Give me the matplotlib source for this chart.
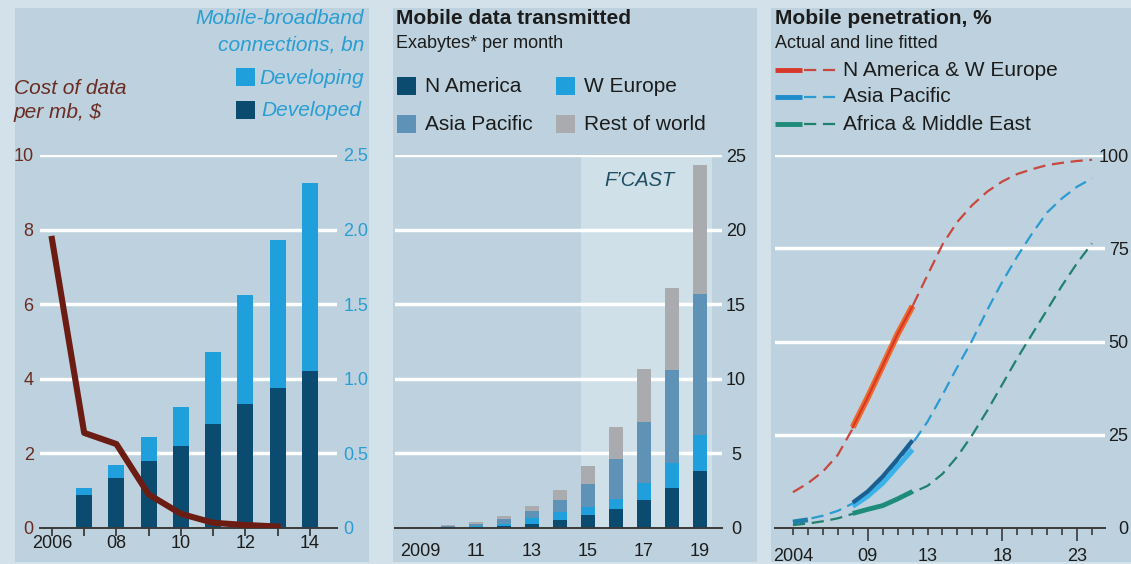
import matplotlib
matplotlib.use('Agg')
import matplotlib.pyplot as plt
from matplotlib.patches import Rectangle
from matplotlib.lines import Line2D

plt.rcParams['font.family'] = ['Liberation Sans', 'DejaVu Sans']

# ---------------- data ----------------
# Panel 1: mobile-broadband connections (bn) and cost of data ($ per mb)
bb_years = [2007, 2008, 2009, 2010, 2011, 2012, 2013, 2014]
bb_developed = [0.22, 0.335, 0.45, 0.55, 0.70, 0.83, 0.94, 1.05]
bb_developing = [0.05, 0.085, 0.16, 0.26, 0.48, 0.73, 0.99, 1.26]
cost_years = [2006, 2007, 2008, 2009, 2010, 2011, 2012, 2013]
cost_per_mb = [7.75, 2.55, 2.25, 0.90, 0.38, 0.14, 0.08, 0.04]
p1_xticks = [2006, 2007, 2008, 2009, 2010, 2011, 2012, 2013, 2014]
p1_xlabels = ['2006', '', '08', '', '10', '', '12', '', '14']
p1_left_ticks = [0, 2, 4, 6, 8, 10]
p1_right_ticks = [0, 0.5, 1.0, 1.5, 2.0, 2.5]
p1_right_labels = ['0', '0.5', '1.0', '1.5', '2.0', '2.5']

# Panel 2: mobile data transmitted, exabytes per month
data_years = [2009, 2010, 2011, 2012, 2013, 2014, 2015, 2016, 2017, 2018, 2019]
n_america = [0.01, 0.04, 0.08, 0.15, 0.30, 0.56, 0.85, 1.27, 1.90, 2.68, 3.80]
w_europe = [0.01, 0.04, 0.08, 0.15, 0.37, 0.49, 0.53, 0.69, 1.10, 1.67, 2.40]
asia_pacific = [0.02, 0.06, 0.14, 0.30, 0.49, 0.80, 1.57, 2.66, 4.10, 6.25, 9.50]
rest_of_world = [0.01, 0.04, 0.10, 0.20, 0.34, 0.67, 1.18, 2.14, 3.55, 5.50, 8.60]
p2_xticks = [2009, 2011, 2013, 2015, 2017, 2019]
p2_xlabels = ['2009', '11', '13', '15', '17', '19']
p2_yticks = [0, 5, 10, 15, 20, 25]
fcast_start, fcast_end = 2014.75, 2019.45

# Panel 3: mobile penetration, %
pen_years = list(range(2004, 2025))
fit_na_weu = [9.6, 12.0, 15.1, 19.6, 26.7, 35.0, 43.4, 52.0, 59.5, 67.8, 76.0,
              82.1, 86.6, 90.2, 92.9, 94.9, 96.2, 97.3, 97.9, 98.4, 98.7]
fit_asia = [1.7, 2.4, 3.3, 4.6, 6.6, 9.3, 12.9, 17.8, 22.7, 28.5, 35.7,
            43.2, 50.4, 58.5, 66.0, 72.8, 79.0, 84.6, 88.4, 91.5, 93.7]
fit_af_me = [0.8, 1.2, 1.8, 2.6, 3.8, 5.0, 6.2, 7.8, 9.5, 11.3, 14.5,
             19.2, 25.0, 31.5, 38.5, 45.5, 52.0, 58.5, 65.0, 71.0, 76.3]
act_years = [2008, 2009, 2010, 2011, 2012]
act_na_weu = [27.0, 35.0, 43.5, 52.0, 59.5]
act_asia = [6.8, 9.8, 13.8, 18.5, 23.5]
act_asia_light = [5.8, 8.5, 12.0, 16.5, 21.0]
act_af_me = [3.9, 5.0, 6.0, 7.8, 9.8]
early_years = [2004, 2005]
early_asia = [1.6, 2.2]
p3_major = [2004, 2009, 2013, 2018, 2023]
p3_labels = ['2004', '09', '13', '18', '23']
p3_yticks = [0, 25, 50, 75, 100]

# ---------------- style ----------------
OUTER = '#d3e2ea'
PANEL = '#bdd2de'
FCAST = '#d0e0e9'
DARK = '#0c4b70'
BRIGHT = '#1f9fdc'
STEEL = '#5e92b6'
GREY = '#a9abaf'
MAROON = '#6b1d13'
MAROON_TXT = '#6a2c22'
BLUE_TXT = '#2a9dd3'
TEXT = '#1c1c1c'
BASE = '#3a3a3a'
RED_D = '#c8483f'
ORANGE = '#ee6a2c'
RED_A = '#d8382a'
BLUE_D = '#2b9bd2'
BLUE_A = '#1b5f91'
BLUE_L = '#3cb3e8'
GREEN_D = '#22806e'
GREEN_A = '#1e8c79'

W, H = 1131, 564


def rect(l, t, r, b):
    return [l / W, 1 - b / H, (r - l) / W, (b - t) / H]


def fx(px):
    return px / W


def fy(py):
    return 1 - py / H


fig = plt.figure(figsize=(W / 100, H / 100), dpi=100, facecolor=OUTER)

for l, r in [(15, 369), (393, 757), (771, 1131)]:
    fig.patches.append(Rectangle((fx(l), fy(562)), (r - l) / W, 554 / H,
                                 transform=fig.transFigure, color=PANEL,
                                 zorder=-5, lw=0))


def square(l, t, color):
    fig.patches.append(Rectangle((fx(l), fy(t + 18)), 19 / W, 18 / H,
                                 transform=fig.transFigure, color=color,
                                 zorder=2, lw=0))


def style_axes(ax):
    for s in ax.spines.values():
        s.set_visible(False)
    ax.set_facecolor('none')


# ---------------- panel 1 ----------------
ax1 = fig.add_axes(rect(40, 155, 337, 528))
ax1b = ax1.twinx()
ax1.set_zorder(ax1b.get_zorder() + 1)
ax1.patch.set_visible(False)
ax1b.patch.set_visible(False)
style_axes(ax1)
style_axes(ax1b)
ax1.set_xlim(2005.63, 2014.84)
ax1.set_ylim(0, 10)
ax1b.set_ylim(0, 2.5)
for v in p1_right_ticks[1:]:
    ax1b.axhline(v, color='white', lw=2.5, zorder=0.5)
ax1b.bar(bb_years, bb_developed, width=0.5, color=DARK, zorder=2)
ax1b.bar(bb_years, bb_developing, bottom=bb_developed, width=0.5,
         color=BRIGHT, zorder=2)
ax1.plot(cost_years, cost_per_mb, color=MAROON, lw=4.4, zorder=3)
ax1.spines['bottom'].set_visible(True)
ax1.spines['bottom'].set_color(BASE)
ax1.spines['bottom'].set_linewidth(1.4)
ax1.set_xticks(p1_xticks)
ax1.set_xticklabels(p1_xlabels)
ax1.tick_params(axis='x', length=6, width=1.3, color=BASE, pad=-1,
                labelsize=13, labelcolor=TEXT)
ax1.set_yticks(p1_left_ticks)
ax1.tick_params(axis='y', length=0, pad=4.5, labelsize=13,
                labelcolor=MAROON_TXT)
ax1b.set_yticks(p1_right_ticks)
ax1b.set_yticklabels(p1_right_labels)
ax1b.tick_params(axis='y', length=0, pad=4.5, labelsize=13,
                 labelcolor=BLUE_TXT)

fig.text(fx(364), fy(18), 'Mobile-broadband', ha='right', va='center',
         style='italic', size=15, color=BLUE_TXT)
fig.text(fx(364), fy(45), 'connections, bn', ha='right', va='center',
         style='italic', size=15, color=BLUE_TXT)
square(236, 68, BRIGHT)
fig.text(fx(364), fy(78), 'Developing', ha='right', va='center',
         style='italic', size=15, color=BLUE_TXT)
square(236, 101, DARK)
fig.text(fx(361), fy(111), 'Developed', ha='right', va='center',
         style='italic', size=15, color=BLUE_TXT)
fig.text(fx(14), fy(89), 'Cost of data', ha='left', va='center',
         style='italic', size=15, color=MAROON_TXT)
fig.text(fx(14), fy(112), 'per mb, $', ha='left', va='center',
         style='italic', size=15, color=MAROON_TXT)

# ---------------- panel 2 ----------------
ax2 = fig.add_axes(rect(395, 155, 722, 528))
style_axes(ax2)
ax2.set_xlim(2008.11, 2019.79)
ax2.set_ylim(0, 25)
ax2.axvspan(fcast_start, fcast_end, color=FCAST, lw=0, zorder=0.2)
for v in p2_yticks[1:]:
    ax2.axhline(v, color='white', lw=2.5, zorder=0.5)
bottom = [0.0] * len(data_years)
for vals, col in [(n_america, DARK), (w_europe, BRIGHT),
                  (asia_pacific, STEEL), (rest_of_world, GREY)]:
    ax2.bar(data_years, vals, bottom=bottom, width=0.5, color=col, zorder=2)
    bottom = [b + v for b, v in zip(bottom, vals)]
ax2.spines['bottom'].set_visible(True)
ax2.spines['bottom'].set_color(BASE)
ax2.spines['bottom'].set_linewidth(1.4)
ax2.set_xticks(p2_xticks)
ax2.set_xticklabels(p2_xlabels)
ax2.tick_params(axis='x', length=0, pad=10.5, labelsize=13, labelcolor=TEXT)
ax2.yaxis.tick_right()
ax2.set_yticks(p2_yticks)
ax2.tick_params(axis='y', length=0, pad=10, labelsize=13, labelcolor=TEXT)
for lbl in ax2.get_yticklabels():
    lbl.set_horizontalalignment('center')
ax2.text(0.5 * (fcast_start + fcast_end) - 0.25, 23.3, 'F’CAST', ha='center',
         va='center', style='italic', size=14.5, color='#1f4d63')

fig.text(fx(396), fy(18), 'Mobile data transmitted', ha='left', va='center',
         weight='bold', size=15, color=TEXT)
fig.text(fx(396), fy(44), 'Exabytes* per month', ha='left', va='center',
         size=13, color=TEXT)
square(397, 77, DARK)
fig.text(fx(425), fy(86), 'N America', ha='left', va='center', size=15,
         color=TEXT)
square(556, 77, BRIGHT)
fig.text(fx(584), fy(86), 'W Europe', ha='left', va='center', size=15,
         color=TEXT)
square(397, 115, STEEL)
fig.text(fx(425), fy(124), 'Asia Pacific', ha='left', va='center', size=15,
         color=TEXT)
square(556, 115, GREY)
fig.text(fx(584), fy(124), 'Rest of world', ha='left', va='center', size=15,
         color=TEXT)

# ---------------- panel 3 ----------------
ax3 = fig.add_axes(rect(775, 155, 1105, 528))
style_axes(ax3)
ax3.set_xlim(2002.80, 2024.87)
ax3.set_ylim(0, 100)
for v in p3_yticks[1:]:
    ax3.axhline(v, color='white', lw=2.5, zorder=0.5)
dash = (0, (5.5, 3))
ax3.plot(pen_years, fit_na_weu, color=RED_D, lw=1.6, ls=dash, zorder=2)
ax3.plot(pen_years, fit_asia, color=BLUE_D, lw=1.6, ls=dash, zorder=2)
ax3.plot(pen_years, fit_af_me, color=GREEN_D, lw=1.6, ls=dash, zorder=2)
ax3.plot(act_years, act_na_weu, color=ORANGE, lw=4.5, zorder=3,
         solid_capstyle='butt')
ax3.plot(act_years, act_na_weu, color=RED_A, lw=1.6, zorder=3)
ax3.plot(act_years, act_asia_light, color=BLUE_L, lw=3.5, zorder=3,
         solid_capstyle='butt')
ax3.plot(act_years, act_asia, color=BLUE_A, lw=3.0, zorder=3,
         solid_capstyle='butt')
ax3.plot(act_years, act_af_me, color=GREEN_A, lw=3.5, zorder=3,
         solid_capstyle='butt')
ax3.plot(early_years, early_asia, color='#1f7fa8', lw=3.5, zorder=3,
         solid_capstyle='butt')
ax3.spines['bottom'].set_visible(True)
ax3.spines['bottom'].set_color(BASE)
ax3.spines['bottom'].set_linewidth(1.4)
ax3.set_xticks(p3_major)
ax3.set_xticklabels(p3_labels)
ax3.set_xticks(pen_years, minor=True)
ax3.tick_params(axis='x', which='major', length=5, width=1.2, color=BASE,
                pad=9.5, labelsize=13, labelcolor=TEXT)
ax3.tick_params(axis='x', which='minor', length=5, width=1.2, color=BASE)
for t, loc in zip(ax3.xaxis.get_major_ticks(), p3_major):
    if loc in (2009, 2018, 2023):
        t.tick1line.set_markersize(9.5)
ax3.yaxis.tick_right()
ax3.set_yticks(p3_yticks)
ax3.tick_params(axis='y', length=0, pad=17, labelsize=13, labelcolor=TEXT)
for lbl in ax3.get_yticklabels():
    lbl.set_horizontalalignment('right')

fig.text(fx(775), fy(19), 'Mobile penetration, %', ha='left', va='center',
         weight='bold', size=15, color=TEXT)
fig.text(fx(775), fy(43), 'Actual and line fitted', ha='left', va='center',
         size=13, color=TEXT)
for yy, solid_c, dash_c, label in [(70, RED_A, RED_D, 'N America & W Europe'),
                                   (97, '#1f8ccc', BLUE_D, 'Asia Pacific'),
                                   (124, GREEN_A, GREEN_D,
                                    'Africa & Middle East')]:
    fig.add_artist(Line2D([fx(775), fx(802)], [fy(yy), fy(yy)], color=solid_c,
                          lw=3.5, transform=fig.transFigure,
                          solid_capstyle='butt'))
    fig.add_artist(Line2D([fx(804), fx(838)], [fy(yy), fy(yy)], color=dash_c,
                          lw=1.6, ls=(0, (5.5, 3)), transform=fig.transFigure))
    fig.text(fx(843), fy(yy), label, ha='left', va='center', size=15,
             color=TEXT)

fig.savefig('out.png', dpi=100, facecolor=OUTER)
